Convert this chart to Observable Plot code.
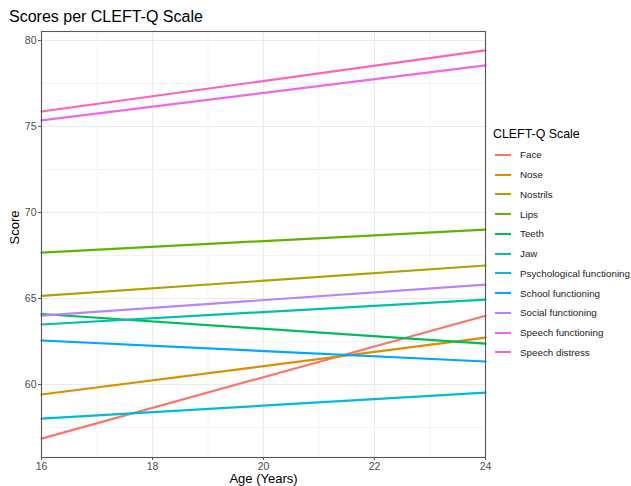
<!DOCTYPE html>
<html>
<head>
<meta charset="utf-8">
<script src="https://cdn.jsdelivr.net/npm/d3@7"></script>
<script src="https://cdn.jsdelivr.net/npm/@observablehq/plot@0.6"></script>
<style>
  body { margin: 0; background: #fff; font-family: "Liberation Sans", Arial, sans-serif; }
  #wrap { position: relative; width: 631px; height: 486px; overflow: hidden; }
  #title { position: absolute; left: 9px; top: 8px; font-size: 16px; color: #000; white-space: nowrap; }
  #legend { position: absolute; left: 493px; top: 127px; font-size: 9.8px; color: #1a1a1a; white-space: nowrap; }
  #legend .lt { font-size: 12.4px; margin-bottom: 4px; color: #000; }
  #legend .it { display: flex; align-items: center; height: 19.75px; }
  #legend .sw { width: 16px; height: 2px; margin: 0 9px 0 2px; flex: none; }
</style>
</head>
<body>
<div id="wrap">
  <div id="title">Scores per CLEFT-Q Scale</div>
  <div id="chart"></div>
  <div id="legend"></div>
</div>
<script>
const scales = ["Face", "Nose", "Nostrils", "Lips", "Teeth", "Jaw",
  "Psychological functioning", "School functioning", "Social functioning",
  "Speech functioning", "Speech distress"];
const colors = ["#F8766D", "#DB8E00", "#AEA200", "#64B200", "#00BD5C", "#00C1A7",
  "#00BADE", "#00A6FF", "#B385FF", "#EF67EB", "#FF63B6"];
const ages = [16, 24];
const scoreAt16 = [56.86, 59.42, 65.15, 67.67, 64.1, 63.49, 58.02, 62.56, 64.01, 75.35, 75.87];
const scoreAt24 = [64.0, 62.73, 66.92, 69.01, 62.38, 64.94, 59.53, 61.34, 65.81, 78.55, 79.42];
const xTicks = [16, 18, 20, 22, 24];
const yTicks = [60, 65, 70, 75, 80];
const xMinor = [17, 19, 21, 23];
const yMinor = [57.5, 62.5, 67.5, 72.5, 77.5];

const data = [];
scales.forEach((s, i) => {
  data.push({scale: s, age: ages[0], score: scoreAt16[i]});
  data.push({scale: s, age: ages[1], score: scoreAt24[i]});
});

const plot = Plot.plot({
  width: 631,
  height: 486,
  marginLeft: 41,
  marginRight: 146,
  marginTop: 31,
  marginBottom: 29,
  style: {fontFamily: "Liberation Sans, Arial, sans-serif", fontSize: "10.5px", color: "#4d4d4d", background: "#fff"},
  x: {domain: [16, 24]},
  y: {domain: [55.76, 80.52]},
  color: {domain: scales, range: colors},
  marks: [
    Plot.gridX(xMinor, {stroke: "#ebebeb", strokeOpacity: 1, strokeWidth: 0.6}),
    Plot.gridY(yMinor, {stroke: "#ebebeb", strokeOpacity: 1, strokeWidth: 0.6}),
    Plot.gridX(xTicks, {stroke: "#ebebeb", strokeOpacity: 1, strokeWidth: 1.1}),
    Plot.gridY(yTicks, {stroke: "#ebebeb", strokeOpacity: 1, strokeWidth: 1.1}),
    Plot.lineY(data, {x: "age", y: "score", z: "scale", stroke: "scale", strokeWidth: 2.2}),
    Plot.frame({stroke: "#555", strokeWidth: 1.1}),
    Plot.axisX(xTicks, {tickSize: 3, tickPadding: 2, stroke: "#555", label: null, fill: "#4d4d4d"}),
    Plot.axisY(yTicks, {tickSize: 3, tickPadding: 2, stroke: "#555", label: null, fill: "#4d4d4d"}),
    Plot.text(["Age (Years)"], {frameAnchor: "bottom", dy: 21, fontSize: 13, fill: "#000", lineAnchor: "middle"}),
    Plot.text(["Score"], {frameAnchor: "left", dx: -27, rotate: -90, fontSize: 13, fill: "#000"})
  ]
});
document.getElementById("chart").appendChild(plot);

const lg = document.getElementById("legend");
const t = document.createElement("div");
t.className = "lt";
t.textContent = "CLEFT-Q Scale";
lg.appendChild(t);
scales.forEach((s, i) => {
  const it = document.createElement("div");
  it.className = "it";
  const sw = document.createElement("div");
  sw.className = "sw";
  sw.style.background = colors[i];
  const lab = document.createElement("span");
  lab.textContent = s;
  it.appendChild(sw);
  it.appendChild(lab);
  lg.appendChild(it);
});
</script>
</body>
</html>
